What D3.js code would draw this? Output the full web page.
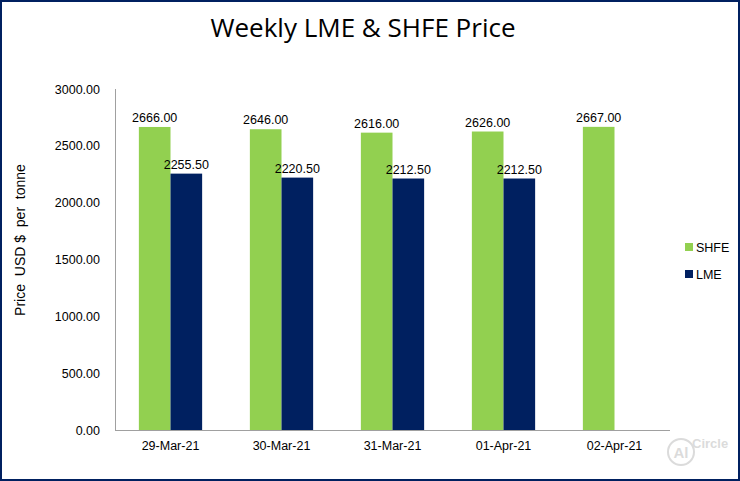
<!DOCTYPE html>
<html>
<head>
<meta charset="utf-8">
<script src="https://cdn.jsdelivr.net/npm/d3@7"></script>
<style>
body { margin:0; background:#fff; }
svg text { font-family: "Liberation Sans", "DejaVu Sans", sans-serif; }
.axis path { stroke:#a0a0a0; }
.axis line { display:none; }
.axis text { font-size:12.5px; fill:#000; }
</style>
</head>
<body>
<svg id="myGraph" width="740" height="481"></svg>
<script>
var categories = ["29-Mar-21", "30-Mar-21", "31-Mar-21", "01-Apr-21", "02-Apr-21"];
var seriesNames = ["SHFE", "LME"];
var shfeValues = [2666.00, 2646.00, 2616.00, 2626.00, 2667.00];
var lmeValues = [2255.50, 2220.50, 2212.50, 2212.50, null];
var yTicks = [0, 500, 1000, 1500, 2000, 2500, 3000];
var colors = ["#92d050", "#002060"];

var svg = d3.select("#myGraph");
var plotLeft = 115, plotRight = 670, plotTop = 89, plotBottom = 430;

// 테두리
svg.append("rect").attr("x", 1).attr("y", 1).attr("width", 738).attr("height", 479)
  .attr("fill", "none").attr("stroke", "#002060").attr("stroke-width", 2);

svg.append("text").attr("x", 363).attr("y", 37).attr("text-anchor", "middle")
  .style("font-family", "'Open Sans', sans-serif").style("font-size", "26px")
  .text("Weekly LME & SHFE Price");

var x0 = d3.scaleBand().domain(categories).range([plotLeft, plotRight]).paddingInner(0.43).paddingOuter(0.215);
var x1 = d3.scaleBand().domain(seriesNames).range([0, x0.bandwidth()]);
var y = d3.scaleLinear().domain([0, 3000]).range([plotBottom, plotTop]);

var data = categories.map(function(c, i){
  return { cat: c, vals: [ { s: "SHFE", v: shfeValues[i] }, { s: "LME", v: lmeValues[i] } ] };
});

var groups = svg.selectAll("g.grp").data(data).enter().append("g")
  .attr("class", "grp")
  .attr("transform", function(d){ return "translate(" + x0(d.cat) + ",0)"; });

groups.selectAll("rect").data(function(d){ return d.vals.filter(function(e){ return e.v != null; }); })
  .enter().append("rect")
  .attr("x", function(e){ return x1(e.s); })
  .attr("y", function(e){ return y(e.v); })
  .attr("width", x1.bandwidth())
  .attr("height", function(e){ return plotBottom - y(e.v); })
  .attr("fill", function(e){ return colors[seriesNames.indexOf(e.s)]; });

groups.selectAll("text.lbl").data(function(d){ return d.vals.filter(function(e){ return e.v != null; }); })
  .enter().append("text")
  .attr("class", "lbl")
  .attr("x", function(e){ return x1(e.s) + x1.bandwidth() / 2; })
  .attr("y", function(e){ return y(e.v) - 5; })
  .attr("text-anchor", "middle")
  .style("font-size", "12.5px")
  .text(function(e){ return e.v.toFixed(2); });

// 세로 눈금
svg.append("g").attr("class", "axis")
  .attr("transform", "translate(" + plotLeft + ",0)")
  .call(d3.axisLeft(y).tickValues(yTicks).tickSize(0).tickPadding(15)
    .tickFormat(function(d){ return d3.format(".2f")(d); }))
  .call(function(g){ g.select("path").attr("d", "M0.5," + plotTop + "V" + plotBottom); });

// 가로 눈금
svg.append("g").attr("class", "axis")
  .attr("transform", "translate(0," + (plotBottom + 0.5) + ")")
  .call(d3.axisBottom(x0).tickSize(0).tickPadding(11))
  .call(function(g){ g.select("path").attr("d", "M" + plotLeft + ",0H" + plotRight); });

svg.append("text")
  .attr("transform", "translate(25,240) rotate(-90)")
  .attr("text-anchor", "middle")
  .style("font-size", "14px")
  .attr("xml:space", "preserve")
  .text("Price  USD $  per  tonne");

// 범례
var legend = svg.selectAll("g.leg").data(seriesNames).enter().append("g")
  .attr("class", "leg")
  .attr("transform", function(d, i){ return "translate(685," + (247 + i * 27) + ")"; });
legend.append("rect").attr("width", 8).attr("height", 8).attr("y", -4)
  .attr("fill", function(d, i){ return colors[i]; });
legend.append("text").attr("x", 11).attr("y", 4.5).style("font-size", "12.5px").text(function(d){ return d; });

// 워터마크
var wm = svg.append("g").attr("opacity", 0.35);
wm.append("circle").attr("cx", 681).attr("cy", 452).attr("r", 13)
  .attr("fill", "none").attr("stroke", "#999").attr("stroke-width", 2);
wm.append("text").attr("x", 681).attr("y", 458).attr("text-anchor", "middle")
  .style("font-size", "15px").style("font-weight", "bold").attr("fill", "#999").text("Al");
wm.append("text").attr("x", 692).attr("y", 448)
  .style("font-size", "13px").style("font-weight", "bold").attr("fill", "#999").text("Circle");
</script>
</body>
</html>
